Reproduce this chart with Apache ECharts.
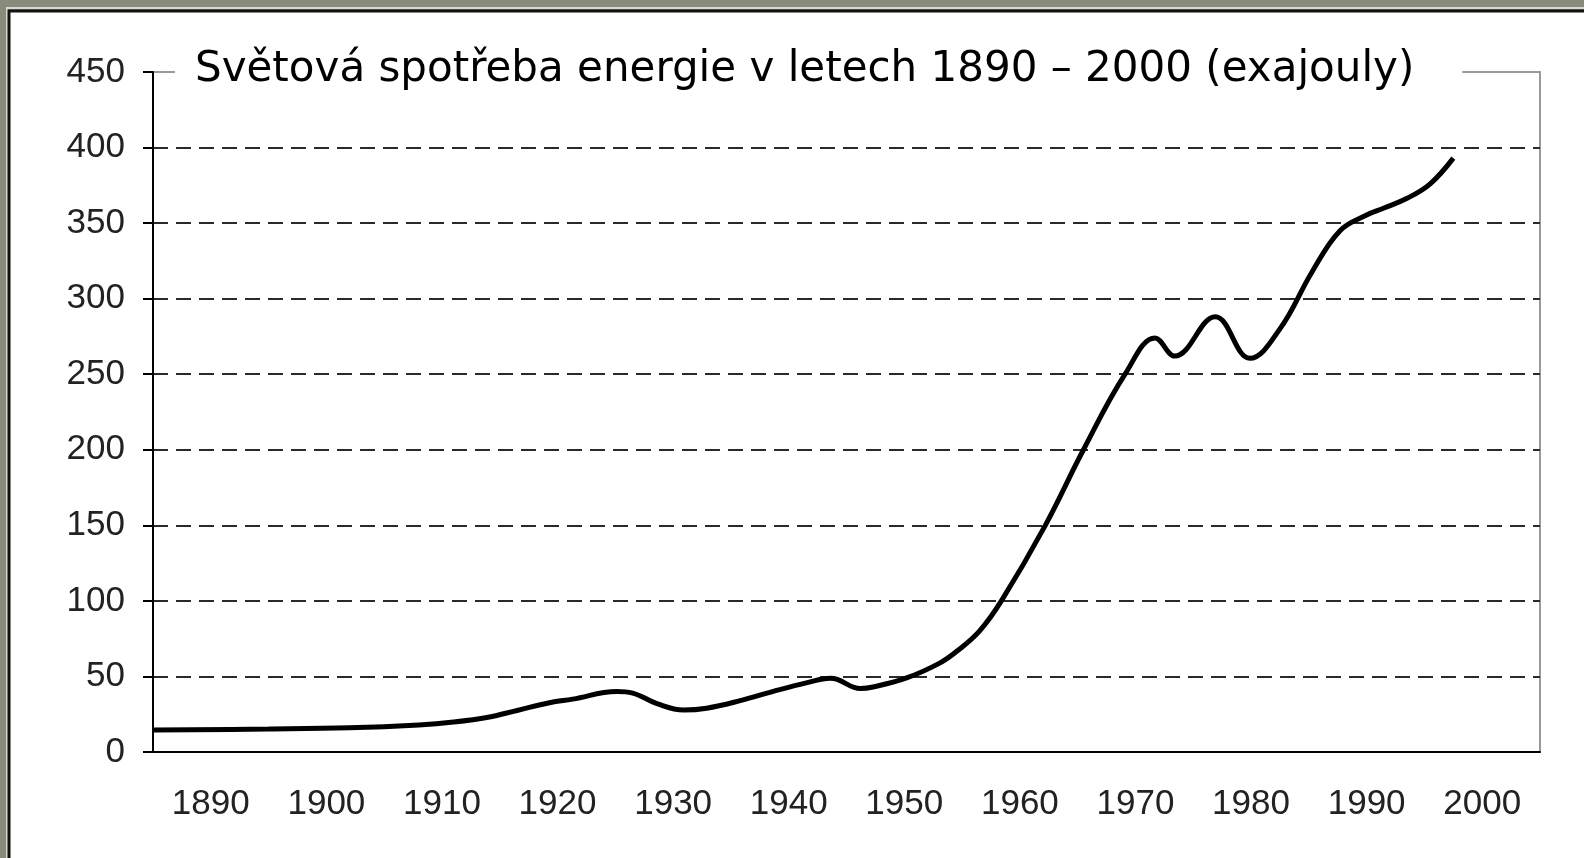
<!DOCTYPE html>
<html>
<head>
<meta charset="utf-8">
<script src="https://cdn.jsdelivr.net/npm/echarts@6/dist/echarts.min.js"></script>
<style>
  html, body { margin: 0; padding: 0; }
  #chart { width: 1584px; height: 858px; }
</style>
</head>
<body>
<div id="chart"></div>
<script>
var chart = echarts.init(document.getElementById('chart'));

// popisky osy x (dekady)
var decades = ['1890', '1900', '1910', '1920', '1930', '1940', '1950', '1960', '1970', '1980', '1990', '2000'];

// body krivky: rok a spotreba (EJ)
var years = [1885, 1895, 1902, 1908, 1911, 1914, 1916.5, 1919.3, 1921.3, 1925.1, 1926.5, 1928.6,
             1930.9, 1932.9, 1935.8, 1938.6, 1941.6, 1943.6, 1944.2, 1946.2, 1947.3, 1950.2,
             1953.1, 1954.6, 1956.5, 1958.4, 1962.2, 1965.5, 1969.1, 1971.7, 1973.4, 1976.9,
             1979.9, 1982.5, 1985.3, 1987.7, 1990.0, 1991.5, 1993.5, 1995.5, 1997.5];
var energy = [14.6, 15.2, 16, 17.9, 19.8, 23, 27.5, 32.6, 35, 40, 39, 32,
              27.8, 29, 34, 40, 45.9, 48.8, 48, 42, 43, 49,
              59, 67, 80, 100, 150, 200, 250, 274, 262, 288,
              260.5, 280, 318, 345, 355.4, 360, 366.4, 376, 393];

var yTicks = [0, 50, 100, 150, 200, 250, 300, 350, 400, 450];

var points = years.map(function (y, i) { return [y, energy[i]]; });

// posledni mrizka (450) je horni okraj, ne carkovana
var gridColors = yTicks.map(function (v) { return v === 450 ? 'rgba(0,0,0,0)' : '#2a2a2a'; });

var option = {
    backgroundColor: '#898b7a',
    animation: false,
    graphic: [{
        type: 'rect',
        z: -11,
        shape: { x: 7, y: 8, width: 1600, height: 900 },
        style: { fill: 'none', stroke: '#d8d8d0', lineWidth: 2 }
    }, {
        type: 'rect',
        z: -10,
        shape: { x: 9, y: 11, width: 1600, height: 900 },
        style: { fill: '#ffffff', stroke: '#111', lineWidth: 3 }
    }],
    title: {
        text: 'Světová spotřeba energie v letech 1890 – 2000 (exajouly)',
        left: 175,
        top: 43,
        padding: [6, 48, 6, 20],
        backgroundColor: '#ffffff',
        textStyle: {
            fontFamily: 'DejaVu Sans, sans-serif',
            fontWeight: 'normal',
            fontSize: 42,
            color: '#000'
        }
    },
    grid: {
        left: 153,
        top: 72,
        width: 1387,
        height: 680,
        show: true,
        borderColor: '#9a9a9a',
        borderWidth: 2,
        backgroundColor: 'transparent'
    },
    xAxis: [{
        type: 'category',
        data: decades,
        boundaryGap: true,
        axisLine: { lineStyle: { color: '#000', width: 2 } },
        axisTick: { length: 11, lineStyle: { color: '#000', width: 2 } },
        axisLabel: {
            margin: 35,
            fontFamily: 'Liberation Sans, Arial, sans-serif',
            fontSize: 35,
            color: '#222'
        },
        splitLine: { show: false }
    }, {
        type: 'value',
        min: 1885,
        max: 2005,
        show: false
    }],
    yAxis: {
        type: 'value',
        min: 0,
        max: 450,
        interval: 50,
        axisLine: { show: true, lineStyle: { color: '#000', width: 2 } },
        axisTick: { show: true, length: 10, lineStyle: { color: '#000', width: 2 } },
        axisLabel: {
            margin: 28,
            fontFamily: 'Liberation Sans, Arial, sans-serif',
            fontSize: 35,
            color: '#222'
        },
        splitLine: {
            show: true,
            lineStyle: { color: gridColors, width: 2, type: [15, 8] }
        }
    },
    series: [{
        type: 'line',
        xAxisIndex: 1,
        data: points,
        smooth: 0.4,
        showSymbol: false,
        lineStyle: { color: '#000', width: 5 }
    }]
};

chart.setOption(option);
</script>
</body>
</html>
